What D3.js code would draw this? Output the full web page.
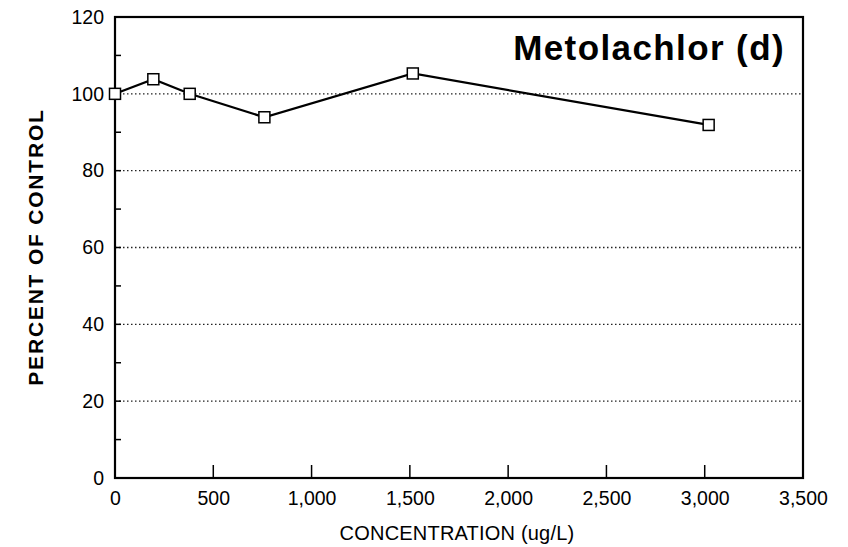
<!DOCTYPE html>
<html>
<head>
<meta charset="utf-8">
<script src="https://cdn.jsdelivr.net/npm/d3@7"></script>
<style>
  body { margin: 0; background: #fff; }
  svg { display: block; font-family: "Liberation Sans", Arial, sans-serif; }
</style>
</head>
<body>
<svg id="chart" width="848" height="547"></svg>
<script>
/*--- Data ---*/
const concentration = [0, 195, 380, 760, 1515, 3020];
const percentOfControl = [100, 103.8, 100, 93.9, 105.3, 91.9];
const xTicks = [0, 500, 1000, 1500, 2000, 2500, 3000, 3500];
const yTicks = [0, 20, 40, 60, 80, 100, 120];
const yMinorTicks = [10, 30, 50, 70, 90, 110];
const gridValues = [20, 40, 60, 80, 100];

/*--- Setup ---*/
const svg = d3.select("#chart");
const margin = {left: 115, right: 45, top: 17, bottom: 69};
const W = 848, H = 547;

const x = d3.scaleLinear().domain([0, 3500]).range([margin.left, W - margin.right]);
const y = d3.scaleLinear().domain([0, 120]).range([H - margin.bottom, margin.top]);

// dotted gridlines
svg.append("g")
    .selectAll("line")
    .data(gridValues)
    .join("line")
    .attr("x1", x(0)).attr("x2", x(3500))
    .attr("y1", d => y(d)).attr("y2", d => y(d))
    .attr("stroke", "#222")
    .attr("stroke-width", 1.3)
    .attr("stroke-dasharray", "1.5,2.5");

// frame
svg.append("rect")
    .attr("x", x(0)).attr("y", y(120))
    .attr("width", x(3500) - x(0)).attr("height", y(0) - y(120))
    .attr("fill", "none")
    .attr("stroke", "#000")
    .attr("stroke-width", 2.2);

// y axis labels
const yAxis = svg.append("g")
    .attr("transform", `translate(${x(0)},0)`)
    .call(d3.axisLeft(y).tickValues(yTicks).tickSize(0).tickPadding(11));
yAxis.select(".domain").remove();
yAxis.selectAll("text")
    .attr("font-size", 19.5)
    .attr("fill", "#000")
    .attr("font-family", "Liberation Sans, Arial, sans-serif");

// y ticks pointing inward
svg.append("g")
    .selectAll("line")
    .data(yMinorTicks.concat(gridValues))
    .join("line")
    .attr("x1", x(0)).attr("x2", x(0) + 6)
    .attr("y1", d => y(d)).attr("y2", d => y(d))
    .attr("stroke", "#000")
    .attr("stroke-width", 1.5);

// x axis labels
const xAxis = svg.append("g")
    .attr("transform", `translate(0,${y(0)})`)
    .call(d3.axisBottom(x).tickValues(xTicks).tickSize(0).tickPadding(13)
        .tickFormat(d3.format(",")));
xAxis.select(".domain").remove();
xAxis.selectAll("text")
    .attr("font-size", 19.5)
    .attr("fill", "#000")
    .attr("font-family", "Liberation Sans, Arial, sans-serif");

// x ticks pointing inward
svg.append("g")
    .selectAll("line")
    .data(xTicks.slice(1, -1))
    .join("line")
    .attr("x1", d => x(d)).attr("x2", d => x(d))
    .attr("y1", y(0)).attr("y2", y(0) - 13)
    .attr("stroke", "#000")
    .attr("stroke-width", 1.5);

// series line
const line = d3.line()
    .x((d, i) => x(concentration[i]))
    .y(d => y(d));

svg.append("path")
    .datum(percentOfControl)
    .attr("d", line)
    .attr("fill", "none")
    .attr("stroke", "#000")
    .attr("stroke-width", 2.2);

// square markers
svg.append("g")
    .selectAll("rect")
    .data(percentOfControl)
    .join("rect")
    .attr("x", (d, i) => x(concentration[i]) - 5.5)
    .attr("y", d => y(d) - 5.5)
    .attr("width", 11)
    .attr("height", 11)
    .attr("fill", "#fff")
    .attr("stroke", "#000")
    .attr("stroke-width", 1.5);

// title
svg.append("text")
    .attr("x", 785).attr("y", 60)
    .attr("text-anchor", "end")
    .attr("font-size", 35)
    .attr("font-weight", "bold")
    .attr("letter-spacing", "1.4")
    .attr("fill", "#000")
    .text("Metolachlor (d)");

// axis titles
svg.append("text")
    .attr("transform", `translate(43,247) rotate(-90)`)
    .attr("text-anchor", "middle")
    .attr("font-size", 21)
    .attr("font-weight", "bold")
    .attr("letter-spacing", "1.8")
    .attr("fill", "#000")
    .text("PERCENT OF CONTROL");

svg.append("text")
    .attr("x", 457).attr("y", 540)
    .attr("text-anchor", "middle")
    .attr("font-size", 20)
    .attr("letter-spacing", "0.2")
    .attr("fill", "#000")
    .text("CONCENTRATION (ug/L)");
</script>
</body>
</html>
